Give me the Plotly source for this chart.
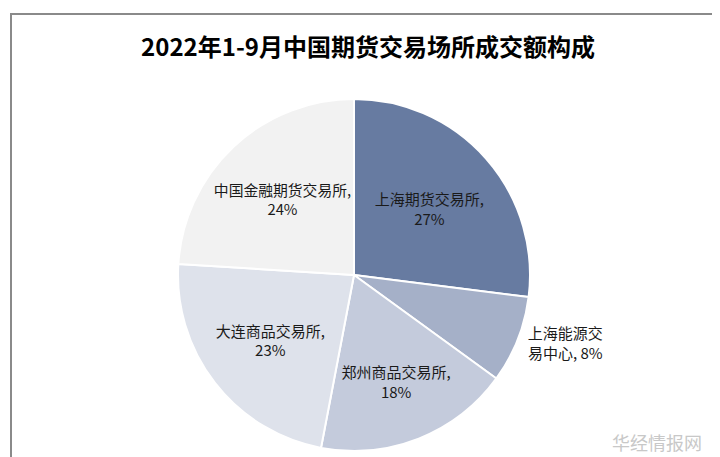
import plotly.graph_objects as go

W, H = 720, 457

title = "2022年1-9月中国期货交易场所成交额构成"
labels = ["上海期货交易所", "上海能源交易中心", "郑州商品交易所", "大连商品交易所", "中国金融期货交易所"]
label_lines = ["上海期货交易所,", "上海能源交<br>易中心,", "郑州商品交易所,", "大连商品交易所,", "中国金融期货交易所,"]
values = [27, 8, 18, 23, 24]
colors = ["#677BA1", "#A5B0C8", "#C4CBDC", "#DEE2EB", "#F2F2F2"]
positions = ["inside", "outside", "inside", "inside", "inside"]

texts = []
for ln, v, p in zip(label_lines, values, positions):
    sep = " " if p == "outside" else "<br>"
    texts.append(f"{ln}{sep}{v}%")

cx, cy, r = 346, 267, 176
fig = go.Figure(go.Pie(
    labels=labels,
    values=values,
    text=texts,
    textinfo="text",
    textposition=positions,
    insidetextorientation="horizontal",
    sort=False,
    direction="clockwise",
    rotation=0,
    marker=dict(colors=colors, line=dict(color="white", width=2)),
    textfont=dict(family="Noto Sans CJK SC", size=15, color="#1a1a1a"),
    outsidetextfont=dict(family="Noto Sans CJK SC", size=15, color="#1a1a1a"),
    domain=dict(x=[(cx - r) / W, (cx + r) / W], y=[1 - (cy + r) / H, 1 - (cy - r) / H]),
    showlegend=False,
    hoverinfo="label+percent",
))

fig.update_layout(
    width=W, height=H,
    margin=dict(l=0, r=0, t=0, b=0),
    paper_bgcolor="white",
    title=dict(text="<b>" + title + "</b>", x=0.5, xanchor="center", y=1 - 40 / H, yanchor="middle",
               font=dict(family="Noto Sans CJK SC", size=24, color="#000000")),
    shapes=[dict(type="rect", xref="paper", yref="paper",
                 x0=3 / W, x1=716 / W, y0=-0.05, y1=1 - 6 / H,
                 line=dict(color="#8A8A8A", width=2), fillcolor="rgba(0,0,0,0)", layer="below")],
    annotations=[dict(text="华经情报网", xref="paper", yref="paper", x=696 / W, y=8 / H,
                      xanchor="right", yanchor="bottom", showarrow=False,
                      font=dict(family="Noto Sans CJK SC", size=18, color="#C8C8C8"))],
)

fig.write_html("out.html")
